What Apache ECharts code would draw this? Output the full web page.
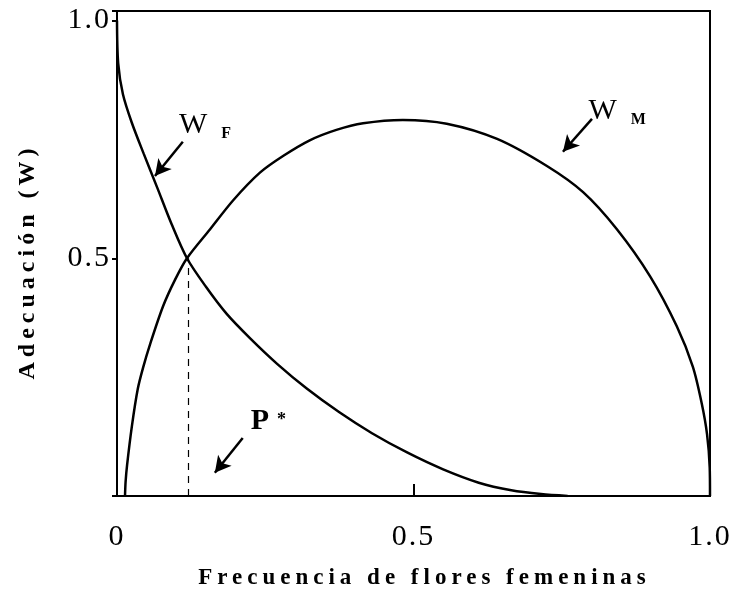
<!DOCTYPE html>
<html>
<head>
<meta charset="utf-8">
<script src="https://cdn.jsdelivr.net/npm/echarts@6/dist/echarts.min.js"></script>
<style>
  html, body { margin: 0; padding: 0; background: #fff; }
  #chart { width: 749px; height: 596px; }
</style>
</head>
<body>
<div id="chart"></div>
<script>
// W_F: adecuacion via flores femeninas
var wfX = [0, 0.002, 0.010, 0.025, 0.045, 0.068, 0.092, 0.118, 0.150, 0.185, 0.225, 0.270, 0.320, 0.375, 0.430, 0.490, 0.550, 0.610, 0.665, 0.715, 0.760];
var wfY = [1.0, 0.910, 0.845, 0.785, 0.720, 0.648, 0.572, 0.500, 0.440, 0.383, 0.331, 0.278, 0.226, 0.176, 0.132, 0.091, 0.056, 0.028, 0.012, 0.004, 0];

// W_M: adecuacion via flores masculinas
var wmX = [0.0135, 0.0145, 0.017, 0.025, 0.035, 0.044, 0.056, 0.078, 0.098, 0.118, 0.157, 0.196, 0.241, 0.280, 0.325, 0.370, 0.415, 0.482, 0.556, 0.641, 0.725, 0.786, 0.843, 0.899, 0.944, 0.971, 0.986, 0.995, 0.9995, 1.0];
var wmY = [0, 0.030, 0.065, 0.146, 0.225, 0.270, 0.320, 0.400, 0.455, 0.500, 0.561, 0.622, 0.680, 0.715, 0.748, 0.770, 0.784, 0.791, 0.783, 0.751, 0.694, 0.639, 0.561, 0.462, 0.357, 0.272, 0.195, 0.130, 0.060, 0];

// equilibrio P*
var pStar = 0.12;
var pStarW = 0.5;

var xTicks = ['0', '0.5', '1.0'];
var yTicks = ['', '0.5', '1.0'];

function pairs(xs, ys) {
    var out = [];
    for (var i = 0; i < xs.length; i++) out.push([xs[i], ys[i]]);
    return out;
}

// the scanned figure uses wide letter spacing, titles more than the rest
var origFillText = CanvasRenderingContext2D.prototype.fillText;
CanvasRenderingContext2D.prototype.fillText = function (t, x, y, w) {
    this.letterSpacing = /bold 2[34]px/.test(this.font) ? '5px' : '2px';
    return w === undefined ? origFillText.call(this, t, x, y) : origFillText.call(this, t, x, y, w);
};

var serif = 'Liberation Serif';
var arrowStyle = { color: '#000', width: 2.5, type: 'solid' };

var myChart = echarts.init(document.getElementById('chart'));

var option = {
    animation: false,
    backgroundColor: '#fff',
    grid: {
        left: 117, right: 39, top: 11, bottom: 100,
        show: true, borderColor: '#000', borderWidth: 2
    },
    xAxis: {
        type: 'value', min: 0, max: 1, interval: 0.5,
        name: 'Frecuencia de flores femeninas',
        nameLocation: 'middle', nameGap: 71,
        nameTextStyle: { fontFamily: serif, fontWeight: 'bold', fontSize: 23, color: '#000', padding: [0, 0, 0, 22] },
        axisLine: { lineStyle: { color: '#000', width: 2 } },
        axisTick: { inside: true, length: 12, lineStyle: { color: '#000', width: 2 } },
        axisLabel: {
            margin: 26, fontFamily: serif, fontSize: 30, color: '#000',
            formatter: function (v) { return xTicks[Math.round(v / 0.5)] || ''; }
        },
        splitLine: { show: false }
    },
    yAxis: {
        type: 'value', min: 0, max: 1.02, interval: 0.5,
        name: 'Adecuación (W)',
        nameLocation: 'middle', nameGap: 77,
        nameTextStyle: { fontFamily: serif, fontWeight: 'bold', fontSize: 24, color: '#000', padding: [0, 16, 0, 0] },
        axisLine: { lineStyle: { color: '#000', width: 2 } },
        axisTick: { length: 5, lineStyle: { color: '#000', width: 2 } },
        axisLabel: {
            margin: 6, fontFamily: serif, fontSize: 30, color: '#000',
            formatter: function (v) {
                if (Math.abs(v / 0.5 - Math.round(v / 0.5)) > 1e-6) return '';
                return yTicks[Math.round(v / 0.5)] || '';
            }
        },
        splitLine: { show: false }
    },
    series: [
        {
            name: 'WF', type: 'line', data: pairs(wfX, wfY),
            showSymbol: false, smooth: 0.3,
            lineStyle: { color: '#000', width: 2.5 },
            markLine: {
                silent: true, symbol: ['none', 'arrow'], symbolSize: [13, 16],
                label: { show: false }, lineStyle: arrowStyle,
                data: [
                    [{ coord: [0.111, 0.745] }, { coord: [0.064, 0.673] }],
                    [{ coord: [0.801, 0.793] }, { coord: [0.752, 0.724] }],
                    [{ coord: [0.212, 0.122] }, { coord: [0.165, 0.049] }]
                ]
            },
            markPoint: {
                silent: true, symbolSize: 0,
                label: {
                    show: true, position: 'inside', color: '#000',
                    rich: {
                        w: { fontFamily: serif, fontSize: 30, verticalAlign: 'top', lineHeight: 30 },
                        p: { fontFamily: serif, fontSize: 30, fontWeight: 'bold', verticalAlign: 'top', lineHeight: 30 },
                        s: { fontFamily: serif, fontSize: 16, fontWeight: 'bold', verticalAlign: 'top', lineHeight: 16, padding: [16, 0, 0, 14] },
                        st: { fontFamily: serif, fontSize: 18, fontWeight: 'bold', verticalAlign: 'top', lineHeight: 18, padding: [5, 0, 0, 8] }
                    }
                },
                data: [
                    { coord: [0.15, 0.78], label: { formatter: '{w|W}{s|F}' } },
                    { coord: [0.845, 0.81], label: { formatter: '{w|W}{s|M}' } },
                    { coord: [0.257, 0.158], label: { formatter: '{p|P}{st|*}' } }
                ]
            }
        },
        {
            name: 'WM', type: 'line', data: pairs(wmX, wmY),
            showSymbol: false, smooth: 0.3,
            lineStyle: { color: '#000', width: 2.5 },
            markLine: {
                silent: true, symbol: 'none',
                label: { show: false },
                lineStyle: { color: '#000', width: 1.2, type: [7, 6] },
                data: [
                    [{ coord: [pStar, 0] }, { coord: [pStar, pStarW] }]
                ]
            }
        }
    ]
};

myChart.setOption(option);
</script>
</body>
</html>
